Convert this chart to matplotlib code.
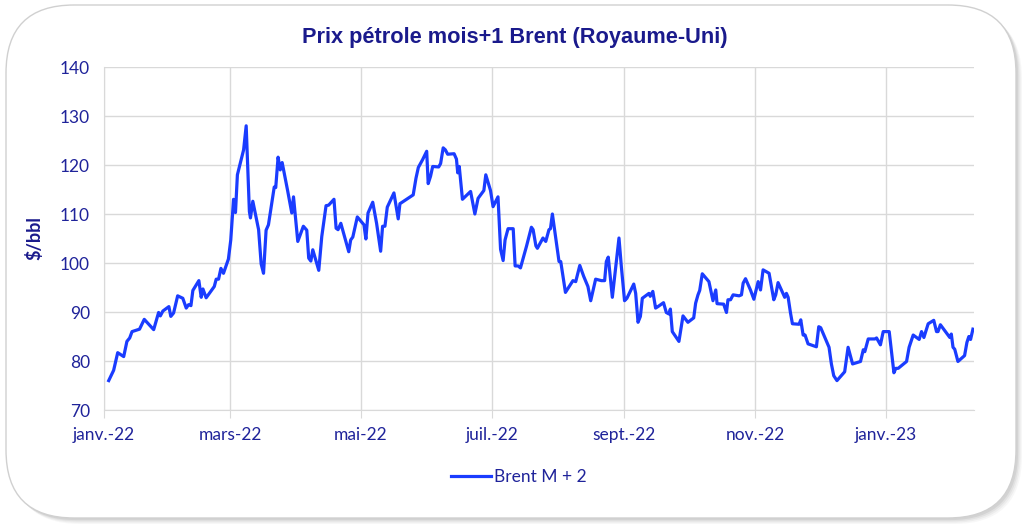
import numpy as np
import pandas as pd
from matplotlib import pyplot as plt
from matplotlib.patches import FancyBboxPatch

# vertices: days since 2022-01-01 and price in $/bbl
days = [2.2, 4.5, 6.4, 9.2, 10.7, 12.0, 13.1, 16.6, 18.8, 23.2, 25.5, 26.3, 27.5, 30.3, 31.2, 32.5,
        34.4, 36.8, 38.4, 39.5, 40.6, 41.5, 44.3, 45.4, 46.2, 47.7, 51.5, 52.4, 53.5, 54.6, 55.8,
        58.1, 59.2, 60.5, 61.4, 62.3, 65.2, 66.4, 67.9, 68.4, 69.5, 72.2, 73.4, 74.5, 75.7, 76.8,
        79.5, 80.2, 81.3, 82.3, 83.2, 85.7, 87.7, 88.5, 90.5, 93.1, 94.7, 95.6, 96.6, 97.5, 100.3,
        101.7, 103.7, 104.9, 107.4, 108.4, 109.3, 110.6, 114.3, 115.2, 116.2, 118.3, 121.4, 122.3,
        123.3, 125.5, 127.3, 129.2, 130.1, 131.2, 132.3, 135.4, 137.4, 138.2, 143.7, 144.4, 145.7,
        146.8, 148.8, 150.7, 151.4, 152.5, 153.5, 156.3, 157.2, 158.4, 159.4, 160.5, 163.5, 164.6,
        165.2, 165.9, 167.4, 171.2, 173.2, 174.7, 177.4, 178.3, 180.5, 181.7, 184.0, 185.2, 186.4,
        187.3, 188.7, 191.1, 192.0, 193.4, 194.5, 197.3, 199.6, 200.4, 201.7, 202.4, 205.0, 206.3,
        207.8, 208.5, 209.4, 212.5, 213.3, 215.5, 219.0, 220.3, 222.2, 224.0, 226.0, 227.3, 229.6,
        232.3, 233.8, 234.6, 235.5, 237.4, 240.5, 241.6, 243.1, 244.2, 247.4, 248.3, 249.4, 250.5,
        251.4, 254.5, 255.1, 256.3, 257.6, 258.7, 261.3, 262.6, 263.8, 264.5, 265.4, 268.5, 270.4,
        272.7, 275.4, 276.3, 277.4, 278.2, 279.4, 282.5, 284.4, 285.7, 286.3, 289.4, 290.7, 291.4,
        292.6, 293.8, 296.6, 297.7, 298.5, 299.6, 301.9, 303.5, 305.5, 306.6, 307.8, 310.6, 312.8,
        313.7, 314.8, 317.1, 317.9, 318.7, 319.5, 320.6, 321.5, 324.6, 325.4, 326.5, 327.4, 328.8,
        332.7, 333.8, 334.7, 338.6, 339.7, 340.8, 342.3, 345.9, 347.5, 349.6, 353.3, 354.6, 355.3,
        356.9, 360.0, 360.8, 362.6, 363.9, 366.7, 368.9, 369.8, 370.9, 374.8, 376.0, 377.9, 380.7,
        381.8, 382.9, 384.9, 387.5, 388.8, 389.5, 390.6, 395.0, 395.7, 396.5, 397.3, 398.8, 401.9,
        403.0, 403.9, 404.7, 405.8]
brent = [76.0, 78.1, 81.7, 80.9, 84.0, 84.7, 86.0, 86.5, 88.5, 86.4, 89.9, 89.2, 90.2, 91.1, 89.1, 89.8,
         93.3, 92.8, 90.8, 91.5, 91.3, 94.4, 96.4, 93.0, 94.7, 92.9, 95.2, 96.7, 96.7, 98.9, 97.9,
         100.8, 104.7, 113.0, 110.3, 118.0, 123.1, 128.0, 110.5, 109.2, 112.6, 106.8, 99.8, 97.9, 106.7, 107.8,
         115.5, 115.4, 121.6, 119.0, 120.5, 114.9, 110.2, 113.5, 104.4, 107.5, 106.7, 101.0, 100.4, 102.7, 98.5,
         105.4, 111.7, 111.8, 113.0, 107.1, 106.8, 108.1, 102.3, 104.7, 105.3, 109.4, 107.8, 104.9,
         110.2, 112.4, 108.1, 102.4, 107.5, 107.5, 111.4, 114.3, 109.0, 112.1, 113.7, 113.9, 117.3,
         119.5, 121.1, 122.8, 116.2, 117.7, 119.7, 119.6, 120.3, 123.5, 123.1, 122.2, 122.3, 121.2,
         118.4, 119.7, 113.0, 114.6, 110.0, 113.2, 114.8, 118.0, 114.8, 111.5, 113.5, 102.8, 100.5,
         104.7, 107.0, 107.0, 99.4, 99.4, 99.0, 103.4, 107.3, 106.8, 103.5, 103.0, 105.1, 104.4,
         106.8, 107.0, 110.0, 100.3, 100.3, 94.0, 96.4, 96.2, 99.5, 97.3, 95.2, 92.3, 96.7,
         96.4, 96.4, 100.3, 101.2, 93.0, 105.1, 99.3, 92.3, 92.8, 95.7, 93.8, 87.9, 89.1,
         92.8, 93.8, 93.2, 94.2, 90.8, 91.1, 91.9, 89.9, 89.6, 90.6, 86.0, 84.0, 89.2,
         87.9, 88.8, 91.8, 93.5, 94.4, 97.8, 96.2, 92.3, 94.5, 91.7, 91.6, 89.9, 92.5,
         92.5, 93.5, 93.3, 93.5, 95.9, 96.8, 94.5, 92.6, 96.2, 94.5, 98.6, 97.9, 92.5,
         93.5, 96.0, 93.8, 93.0, 93.8, 93.0, 89.8, 87.6, 87.5, 88.4, 85.3, 85.3, 83.5,
         82.9, 87.0, 86.8, 82.8, 79.4, 77.0, 76.0, 77.8, 82.8, 79.4, 79.9, 82.3, 81.9,
         84.5, 84.5, 84.7, 83.3, 86.0, 86.0, 77.6, 78.5, 78.5, 79.9, 82.8, 85.3, 84.4,
         86.0, 84.8, 87.6, 88.3, 86.0, 86.0, 87.4, 84.8, 85.5, 82.8, 82.4, 79.9, 81.1,
         83.8, 85.0, 84.4, 86.5]

tick_dates = ['2022-01-01', '2022-03-01', '2022-05-01', '2022-07-01', '2022-09-01', '2022-11-01', '2023-01-01']
tick_labels = ['janv.-22', 'mars-22', 'mai-22', 'juil.-22', 'sept.-22', 'nov.-22', 'janv.-23']
y_ticks = [70, 80, 90, 100, 110, 120, 130, 140]

navy = '#1f239a'
title_navy = '#1a1a8c'
line_blue = '#1a3cff'
plt.rcParams['font.family'] = ['Lato', 'DejaVu Sans']

start = pd.Timestamp('2022-01-01')
dates = start + pd.to_timedelta(np.array(days), unit='D')

fig = plt.figure(figsize=(10.24, 5.31), dpi=100)

# rounded frame with a soft shadow
bg = fig.add_axes([0, 0, 1, 1], zorder=-1)
bg.set_xlim(0, 1024)
bg.set_ylim(0, 531)
bg.axis('off')
for i, a in enumerate([0.05, 0.07, 0.09, 0.12]):
    off = 6 - i * 1.3
    bg.add_patch(FancyBboxPatch((6 + off, 13 - off), 1010, 513, boxstyle='round,pad=0,rounding_size=68',
                                fc='#6f6f6f', ec='none', alpha=a))
bg.add_patch(FancyBboxPatch((6, 13), 1010, 513, boxstyle='round,pad=0,rounding_size=68',
                            fc='white', ec='#d0d0d0', lw=1))

ax = fig.add_axes([104 / 1024, 121 / 531, 870 / 1024, 343 / 531])
ax.set_facecolor('none')
ax.plot(dates, brent, color=line_blue, lw=2.3, label='Brent M + 2', solid_joinstyle='round')

ax.set_xlim(start, start + pd.Timedelta(days=406.3))
ax.set_ylim(70, 140)
ax.set_yticks(y_ticks)
ax.set_xticks(pd.to_datetime(tick_dates))
ax.set_xticklabels(tick_labels)
ax.grid(True, color='#d9d9d9', lw=1)
ax.set_axisbelow(True)
for s in ['top', 'right']:
    ax.spines[s].set_visible(False)
ax.spines['left'].set_color('#d9d9d9')
ax.spines['bottom'].set_color('#d9d9d9')
ax.tick_params(axis='y', length=0, pad=10, labelsize=12.5, labelcolor=navy)
ax.tick_params(axis='x', length=6, color='#d9d9d9', pad=6, labelsize=12.5, labelcolor=navy)
ax.set_ylabel('$/bbl', fontsize=13, fontweight='bold', color=title_navy, labelpad=12)

fig.text(0.503, 0.929, 'Prix pétrole mois+1 Brent (Royaume-Uni)', ha='center', va='center',
         fontsize=15.7, fontweight='bold', color=title_navy, family=['Liberation Sans', 'DejaVu Sans'])
leg = fig.legend(loc='center', bbox_to_anchor=(0.5065, 0.102), frameon=False, fontsize=12.5,
                 handlelength=2.3, handletextpad=0.2)
for t in leg.get_texts():
    t.set_color(navy)

fig.savefig('out.png', dpi=100)
